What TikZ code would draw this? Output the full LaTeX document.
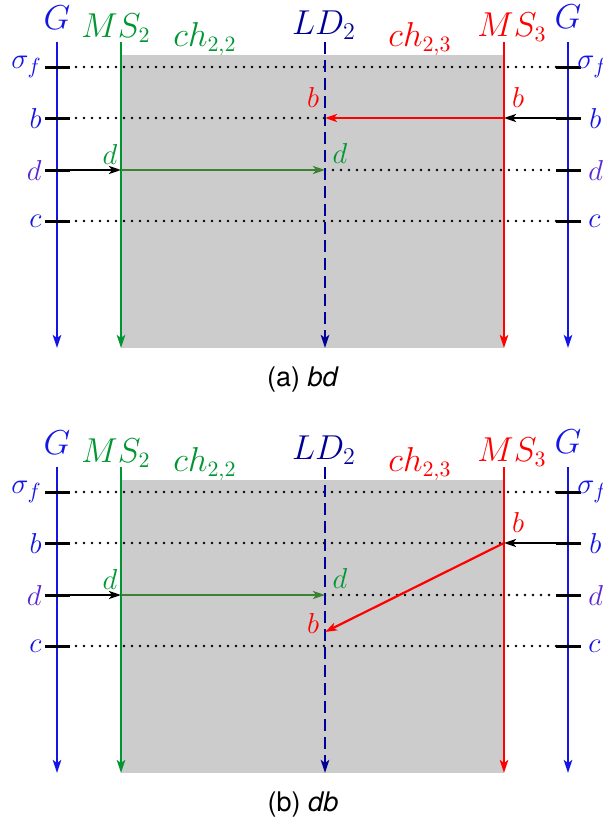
\documentclass[tikz,border=0pt]{standalone}
\usepackage{fontspec}
\newfontfamily\capfont{TeX Gyre Heros}
\usepackage{tikz}
\usetikzlibrary{arrows.meta}
\definecolor{gblue}{RGB}{20,20,230}
\definecolor{ldblue}{RGB}{0,0,150}
\definecolor{msgreen}{RGB}{0,150,50}
\definecolor{arrgreen}{RGB}{60,130,50}
\definecolor{msred}{RGB}{255,0,0}
\definecolor{dviolet}{RGB}{90,40,210}
\definecolor{boxgray}{RGB}{204,204,204}

\begin{document}
\begin{tikzpicture}[
  x=0.5pt, y=-0.5pt,
  >={Stealth[length=6.5pt,width=4.2pt,inset=1.5pt]},
  life/.style={line width=1.1pt, ->},
  tick/.style={line width=1.5pt},
  guide/.style={line width=1.3pt, line cap=round, dash pattern=on 0pt off 4pt},
  msg/.style={line width=1.1pt, ->, >={Stealth[length=6pt,width=4pt,inset=1.5pt]}},
  hdr/.style={font=\fontsize{16}{19}\selectfont, inner sep=0pt, anchor=base},
  rowlab/.style={font=\fontsize{15}{18}\selectfont, inner sep=0pt},
  evlab/.style={font=\fontsize{15}{18}\selectfont, inner sep=0pt},
  captxt/.style={font=\capfont\fontsize{13.5}{16}\selectfont}
]
\useasboundingbox (0,0) rectangle (603,825);

\foreach \pn/\dy/\ev in {a/0/bd, b/425/db}{
\begin{scope}[shift={(0,\dy)}]
  \fill[boxgray] (121,55) rectangle (504,348);

  \coordinate (\pn-Gl-top) at (57,42);   \coordinate (\pn-Gl-bot) at (57,348);
  \coordinate (\pn-MSa-top) at (121,42); \coordinate (\pn-MSa-bot) at (121,348);
  \coordinate (\pn-LD-top) at (325,42);  \coordinate (\pn-LD-bot) at (325,348);
  \coordinate (\pn-MSb-top) at (504,42); \coordinate (\pn-MSb-bot) at (504,348);
  \coordinate (\pn-Gr-top) at (568,42);  \coordinate (\pn-Gr-bot) at (568,348);

  \foreach \r/\y in {sf/67, b/118, d/170, c/221}{
    \coordinate (\pn-\r-l) at (45,\y);
    \coordinate (\pn-\r-r) at (581,\y);
    \coordinate (\pn-\r-gl) at (76,\y);
    \coordinate (\pn-\r-gr) at (556,\y);
    \coordinate (\pn-MSa-\r) at (121,\y);
    \coordinate (\pn-LD-\r) at (325,\y);
    \coordinate (\pn-MSb-\r) at (504,\y);
  }

  \draw[guide] (\pn-sf-gl) -- (\pn-sf-gr);
  \draw[guide] (\pn-c-gl) -- (\pn-c-gr);
  \draw[guide] (\pn-LD-d) -- (\pn-d-gr);

  \draw[life, gblue] (\pn-Gl-top) -- (\pn-Gl-bot);
  \draw[life, msgreen] (\pn-MSa-top) -- (\pn-MSa-bot);
  \draw[life, ldblue, line width=1.3pt, dash pattern=on 6pt off 3pt] (\pn-LD-top) -- (\pn-LD-bot);
  \draw[life, msred] (\pn-MSb-top) -- (\pn-MSb-bot);
  \draw[life, gblue] (\pn-Gr-top) -- (\pn-Gr-bot);

  \foreach \r/\y/\lab/\col/\rx in {sf/67/\sigma_f/gblue/577, b/118/b/gblue/589, d/170/d/dviolet/588, c/221/c/gblue/588}{
    \draw[tick] (\pn-\r-l) -- ++(25,0);
    \draw[tick] (\pn-\r-r) -- ++(-25,0);
    \node[rowlab, text=\col, anchor=east] (\pn-\r-ll) at (42,\y) {$\lab$};
    \node[rowlab, text=\col, anchor=west] (\pn-\r-rl) at (\rx,\y) {$\lab$};
  }

  \draw[msg] (\pn-d-l) -- (\pn-MSa-d);
  \draw[msg, arrgreen] (\pn-MSa-d) -- (\pn-LD-d);
  \draw[msg] (\pn-b-r) -- (\pn-MSb-b);

  \node[evlab, text=msgreen] (\pn-d1) at (110,154) {$d$};
  \node[evlab, text=msgreen] (\pn-d2) at (340,153) {$d$};
  \node[evlab, text=msred] (\pn-b1) at (518,97) {$b$};

  \node[hdr, text=gblue, font=\fontsize{17}{20}\selectfont] (\pn-G1) at (57,29) {$G$};
  \node[hdr, text=msgreen] (\pn-MS2) at (116,37) {$MS_2$};
  \node[hdr, text=msgreen] (\pn-ch22) at (205,46) {$ch_{2,2}$};
  \node[hdr, text=ldblue, font=\fontsize{18}{21}\selectfont] (\pn-LD2) at (324,34) {$LD_2$};
  \node[hdr, text=msred] (\pn-ch23) at (420,46) {$ch_{2,3}$};
  \node[hdr, text=msred] (\pn-MS3) at (512,36) {$MS_3$};
  \node[hdr, text=gblue, font=\fontsize{17}{20}\selectfont] (\pn-G2) at (568,28) {$G$};

  \node[captxt] (\pn-cap) at (303,380) {(\pn) \textit{\ev}};
\end{scope}
}

% (a) bd
\draw[guide] (a-b-gl) -- (a-LD-b);
\draw[msg, msred] (a-MSb-b) -- (a-LD-b);
\node[evlab, text=msred] (a-b2) at (313,97) {$b$};

% (b) db
\coordinate (b-LD-x) at (325,632);
\draw[guide] (b-b-gl) -- (b-MSb-b);
\draw[msg, msred] (b-MSb-b) -- (b-LD-x);
\node[evlab, text=msred] (b-b2) at (313,623) {$b$};
\end{tikzpicture}
\end{document}
